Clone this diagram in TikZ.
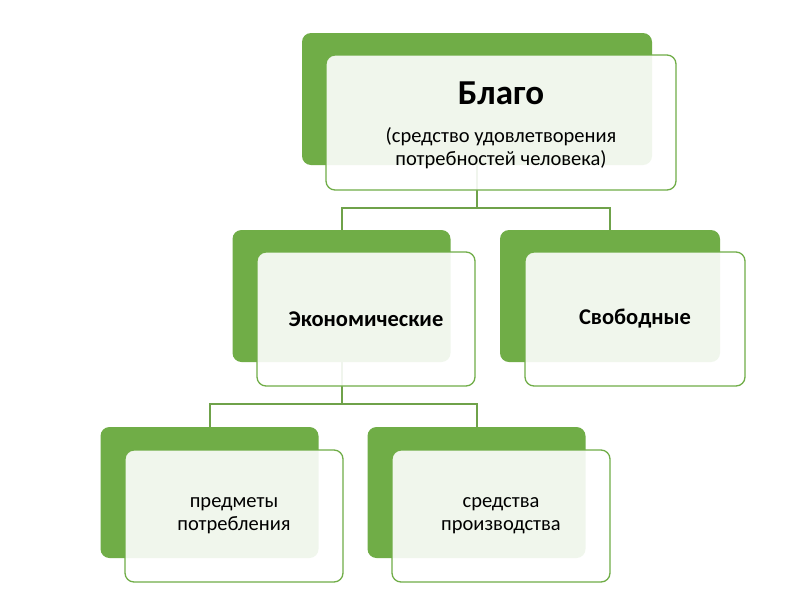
\documentclass[tikz,border=0pt]{standalone}
\usepackage{fontspec}
\setmainfont{Carlito}
\definecolor{sgreen}{HTML}{70AD47}
\definecolor{lgreen}{HTML}{6FA24A}
\begin{document}
\begin{tikzpicture}[x=1pt,y=-1pt,
  gbox/.style={fill=sgreen, rounded corners=9pt, inner sep=0pt, minimum width=218pt, minimum height=132pt},
  wbox/.style={fill=white, fill opacity=0.9, text opacity=1, draw=sgreen, line width=1.3pt, rounded corners=9pt, inner sep=0pt, minimum width=218pt, minimum height=134pt, align=center},
  conn/.style={draw=lgreen, line width=2pt},
  small/.style={font=\fontsize{20.5}{23}\selectfont},
  mid/.style={font=\fontsize{22.5}{26}\selectfont\bfseries}]
\fill[white] (0,0) rectangle (800,600);
\useasboundingbox (0,0) rectangle (800,600);
% green boxes
\node[gbox, minimum width=350pt] (g1) at (477,99) {};
\node[gbox] (g2) at (341.5,296) {};
\node[gbox, minimum width=220pt] (g3) at (610,296) {};
\node[gbox, minimum height=131pt] (g4) at (209.5,492.5) {};
\node[gbox, minimum height=131pt] (g5) at (476.5,492.5) {};
% connectors
\draw[conn] (g1.south) -- ++(0,43) -| (g2.north);
\draw[conn] (g1.south) -- ++(0,43) -| (g3.north);
\draw[conn] (g2.south) -- ++(0,42) -| (g4.north);
\draw[conn] (g2.south) -- ++(0,42) -| (g5.north);
% white boxes
\node[wbox, minimum width=350pt, minimum height=135pt] (w1) at (501,122.5) {};
\node[wbox, mid] (w2) at (366,319) {Экономические};
\node[wbox, mid, minimum width=220pt] (w3) at (635,319) {Свободные};
\node[wbox, small, minimum height=132pt] (w4) at (234,516) {предметы\\потребления};
\node[wbox, small, minimum height=132pt] (w5) at (501,516) {средства\\производства};
% top texts
\node[font=\fontsize{35}{40}\selectfont\bfseries] (t1) at (501,93) {Благо};
\node[small, align=center] (t2) at (501,148) {(средство удовлетворения\\потребностей человека)};
\end{tikzpicture}
\end{document}
